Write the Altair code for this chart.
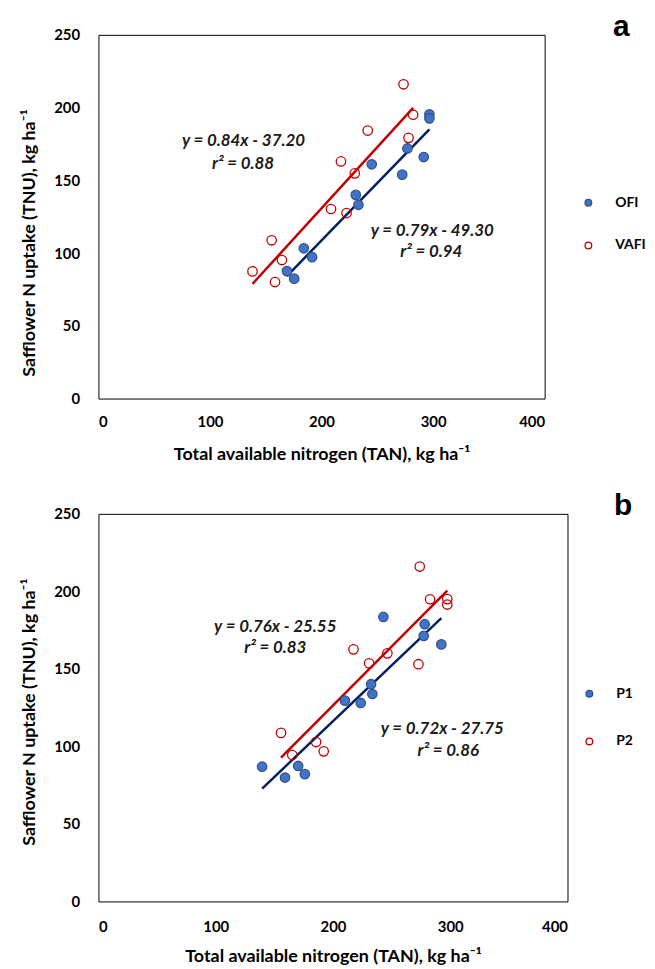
import altair as alt
import pandas as pd

# ---------------- data ----------------
# Panel a
a_names = ["OFI", "VAFI"]
a_ofi_x = [169, 175.5, 184.1, 191.5, 230.7, 233.1, 245, 272.3, 277, 291.6, 296.7, 296.7]
a_ofi_y = [87.6, 82.4, 103.3, 97.2, 140, 133.2, 161, 153.9, 171.9, 166, 195.4, 192.6]
a_vafi_x = [138.1, 155.3, 158.3, 164.5, 208.5, 217.4, 222.4, 229.8, 241.4, 273.5, 278, 282.1]
a_vafi_y = [87.4, 108.8, 80.1, 95.2, 130.3, 163, 127.5, 154.8, 184.2, 216, 179.2, 195.1]
a_slope = [0.79, 0.84]
a_icpt = [-49.30, -37.20]
a_eq_text = ["y = 0.84x - 37.20", "r² = 0.88", "y = 0.79x - 49.30", "r² = 0.94"]
a_eq_x = [130, 129.6, 299.3, 298.4]
a_eq_y = [176.9, 161.2, 115.4, 100.4]

# Panel b
b_names = ["P1", "P2"]
b_p1_x = [139.6, 159.1, 170.3, 176, 210.2, 223.7, 232.5, 233.6, 243, 277.4, 278.2, 292.4]
b_p1_y = [86.9, 79.9, 87.4, 82.1, 129.5, 128, 140.1, 133.8, 183.5, 171.3, 178.8, 165.8]
b_p2_x = [155.7, 165.3, 185.6, 192.1, 217.5, 230.8, 246.4, 272.9, 274, 282.8, 297.5, 297.5]
b_p2_y = [108.7, 94.4, 102.8, 96.8, 162.6, 153.6, 160, 153, 216, 194.9, 195, 191.5]
b_slope = [0.72, 0.76]
b_icpt = [-27.75, -25.55]
b_eq_text = ["y = 0.76x - 25.55", "r² = 0.83", "y = 0.72x - 27.75", "r² = 0.86"]
b_eq_x = [150.8, 150.8, 293.2, 298.3]
b_eq_y = [176.9, 163.5, 110.9, 96.8]

x_ticks = [0, 100, 200, 300, 400]
y_ticks = [0, 50, 100, 150, 200, 250]

X_TITLE = "Total available nitrogen (TAN), kg ha⁻¹"
Y_TITLE = "Safflower N uptake (TNU), kg ha⁻¹"

FONT = "Lato"
BLUE_FILL = "#4472C4"
BLUE_EDGE = "#2F528F"
BLUE_LINE = "#002060"
RED = "#C00000"


def panel(letter, names, x1, y1, x2, y2, slopes, icpts, eq_text, eq_x, eq_y,
          w, h, leg_x, leg_y, leg_row, letter_x, ypad, ytp, ytitle_y, xpad, xtp):
    pts = pd.DataFrame({
        "x": list(x1) + list(x2),
        "y": list(y1) + list(y2),
        "series": [names[0]] * len(x1) + [names[1]] * len(x2),
    })
    xs = [x1, x2]
    lines = []
    for i in range(2):
        lo, hi = min(xs[i]), max(xs[i])
        lines.append(pd.DataFrame({
            "x": [lo, hi],
            "y": [slopes[i] * lo + icpts[i], slopes[i] * hi + icpts[i]],
            "series": [names[i]] * 2,
        }))
    eq = pd.DataFrame({"t": eq_text, "x": eq_x, "y": eq_y})

    xenc = alt.X("x:Q", scale=alt.Scale(domain=[0, 400], nice=False),
                 axis=alt.Axis(values=x_ticks, title=X_TITLE, labelPadding=xpad,
                               titlePadding=xtp))
    yenc = alt.Y("y:Q", scale=alt.Scale(domain=[0, 250], nice=False),
                 axis=alt.Axis(values=y_ticks, title=Y_TITLE, labelPadding=ypad,
                               titlePadding=ytp, titleY=ytitle_y))

    line_cols = [BLUE_LINE, RED]
    line_layers = [
        alt.Chart(lines[i]).mark_line(strokeWidth=2.5, color=line_cols[i]).encode(x=xenc, y=yenc)
        for i in range(2)
    ]
    leg = dict(title=None, orient="none", legendX=leg_x, legendY=leg_y, rowPadding=leg_row)
    points = alt.Chart(pts).mark_circle(size=90, strokeWidth=1.3, opacity=1).encode(
        x=xenc, y=yenc,
        fill=alt.Fill("series:N", scale=alt.Scale(domain=names, range=[BLUE_FILL, "transparent"]),
                      legend=alt.Legend(**leg)),
        stroke=alt.Stroke("series:N", scale=alt.Scale(domain=names, range=[BLUE_EDGE, RED]),
                          legend=alt.Legend(**leg)),
    )
    texts = alt.Chart(eq).mark_text(font=FONT, fontSize=17, fontWeight="bold", fontStyle="italic",
                                    color="#1a1a1a").encode(x=xenc, y=yenc, text="t:N")
    lab = alt.Chart(pd.DataFrame({"t": [letter]})).mark_text(
        font="Liberation Sans", fontSize=30, fontWeight="bold", color="black", baseline="middle"
    ).encode(x=alt.value(letter_x), y=alt.value(-8), text="t:N")
    return alt.layer(*line_layers, points, texts, lab).properties(width=w, height=h)


pa = panel("a", a_names, a_ofi_x, a_ofi_y, a_vafi_x, a_vafi_y, a_slope, a_icpt,
           a_eq_text, a_eq_x, a_eq_y, 449, 366, 486, 162, 29, 526, 19, 15, 209, 16, 16)
pb = panel("b", b_names, b_p1_x, b_p1_y, b_p2_x, b_p2_y, b_slope, b_icpt,
           b_eq_text, b_eq_x, b_eq_y, 472, 390, 487, 174, 34, 528, 19, 15, 199, 18, 13)

chart = alt.vconcat(pa, pb, spacing=26).resolve_scale(
    fill="independent", stroke="independent"
).properties(
    padding={"left": 12, "top": 0, "right": 0, "bottom": 0}, background="white"
).configure_view(stroke="black", strokeWidth=1).configure_axis(
    domain=False, ticks=False, grid=False,
    labelFont=FONT, labelFontSize=15, labelFontWeight="bold", labelColor="black",
    titleFont=FONT, titleFontSize=18, titleFontWeight="bold", titleColor="black",
).configure_legend(
    labelFont=FONT, labelFontSize=14, labelFontWeight="bold", labelColor="black",
    symbolSize=45, symbolStrokeWidth=1.3, labelOffset=20,
)

chart.save("out.html", embed_options={"renderer": "svg", "actions": False})
